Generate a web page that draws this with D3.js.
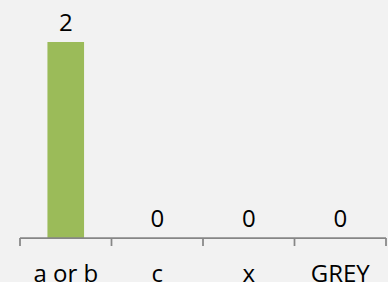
<!DOCTYPE html>
<html><head><meta charset="utf-8">
<script src="https://cdn.jsdelivr.net/npm/d3@7"></script>
<style>
html,body{margin:0;padding:0;background:#f2f2f2;}
svg{display:block;}
</style></head>
<body>
<script>
const categories = ["a or b", "c", "x", "GREY"];
const values = [2, 0, 0, 0];

const W = 388, H = 282;
const margin = {left: 20, right: 2, top: 42, bottom: 44};
const FONT = "'Open Sans', 'Noto Sans', sans-serif";
const FS = 24;
const svg = d3.select("body").append("svg").attr("width", W).attr("height", H)
  .style("background", "#f2f2f2");

const x = d3.scaleBand().domain(categories).range([margin.left, W - margin.right]).paddingInner(0).paddingOuter(0);
const y = d3.scaleLinear().domain([0, d3.max(values)]).range([H - margin.bottom, margin.top]);

const barW = x.bandwidth() * 0.4;

svg.selectAll("rect.bar").data(categories).join("rect")
  .attr("class", "bar")
  .attr("x", d => x(d) + (x.bandwidth() - barW) / 2)
  .attr("width", barW)
  .attr("y", (d, i) => y(values[i]))
  .attr("height", (d, i) => y(0) - y(values[i]))
  .attr("fill", "#9bbb59");

svg.selectAll("text.val").data(categories).join("text")
  .attr("class", "val")
  .attr("x", d => x(d) + x.bandwidth() / 2)
  .attr("y", (d, i) => y(values[i]) - 11)
  .attr("text-anchor", "middle")
  .attr("font-family", FONT)
  .attr("font-size", FS)
  .attr("fill", "#000")
  .text((d, i) => values[i]);

// axis line and ticks
const axisY = y(0);
const g = svg.append("g");
g.append("line")
  .attr("x1", margin.left).attr("x2", W - margin.right)
  .attr("y1", axisY).attr("y2", axisY)
  .attr("stroke", "#868686").attr("stroke-width", 1.75);
const tickPos = categories.map(c => x(c)).concat([x(categories[categories.length - 1]) + x.bandwidth()]);
g.selectAll("line.tick").data(tickPos).join("line")
  .attr("class", "tick")
  .attr("x1", d => d).attr("x2", d => d)
  .attr("y1", axisY).attr("y2", axisY + 8)
  .attr("stroke", "#868686").attr("stroke-width", 1.75);

svg.selectAll("text.cat").data(categories).join("text")
  .attr("class", "cat")
  .attr("x", d => x(d) + x.bandwidth() / 2)
  .attr("y", 281.5)
  .attr("text-anchor", "middle")
  .attr("font-family", FONT)
  .attr("font-size", FS)
  .attr("fill", "#000")
  .text(d => d);
</script>
</body></html>
